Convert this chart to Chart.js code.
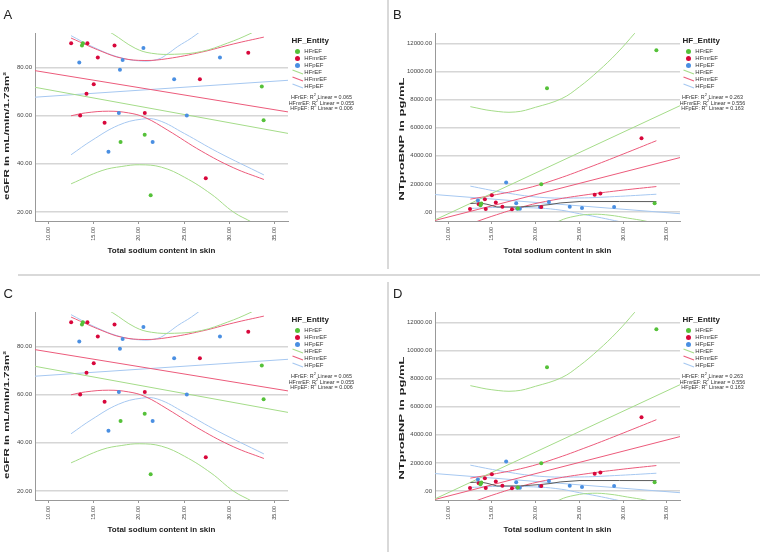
<!DOCTYPE html>
<html>
<head>
<meta charset="utf-8">
<script src="https://cdn.jsdelivr.net/npm/chart.js@4.4.0/dist/chart.umd.min.js"></script>
<style>
  body { margin: 0; background: #fff; width: 760px; height: 552px; position: relative; overflow: hidden;
         font-family: "Liberation Sans", Arial, sans-serif; color: #222; }
  canvas { position: absolute; }
  .t { position: absolute; white-space: nowrap; line-height: 1; }
  .sep { position: absolute; background: #d9d9d9; }
</style>
</head>
<body>
<div class="sep" style="left:18px;top:274px;width:742px;height:2px"></div>
<div class="sep" style="left:387px;top:0;width:2px;height:269px"></div>
<div class="sep" style="left:387px;top:282px;width:2px;height:270px"></div>
<script>
// groups and colours
const groups = ['HFrEF', 'HFmrEF', 'HFpEF'];
const dotColors = ['#55c139', '#d8073b', '#4a8fe2'];
const lineColors = ['#a5dc89', '#ec5b7b', '#a6c8f1'];

// axis ticks
const sodiumTicks = [10, 15, 20, 25, 30, 35];
const egfrTicks = [20, 40, 60, 80];
const bnpTicks = [0, 2000, 4000, 6000, 8000, 10000, 12000];

// R2 values shown under the legend
const r2Egfr = ['0.065', '0.055', '0.006'];
const r2Bnp = ['0.263', '0.556', '0.163'];

// patients
const sodiumHFrEF = [13.7, 13.8, 17.97, 20.64, 21.3, 33.6, 33.8];
const egfrHFrEF   = [89, 90, 49, 52, 27, 72, 58];
const bnpHFrEF    = [480, 600, 250, 1980, 8800, 620, 11500];

const sodiumHFmrEF = [12.5, 13.5, 14.2, 14.3, 15.0, 15.45, 16.2, 17.3, 20.65, 26.75, 27.4, 32.1];
const egfrHFmrEF   = [90, 60, 69, 90, 73, 84, 57, 89, 61, 75, 34, 86];
const bnpHFmrEF    = [220, 550, 900, 220, 1200, 670, 380, 190, 360, 1220, 1310, 5250];

const sodiumHFpEF = [13.4, 16.63, 17.78, 17.9, 18.2, 20.5, 21.52, 23.9, 25.3, 28.97];
const egfrHFpEF   = [82, 45, 61, 79, 83, 88, 49, 75, 60, 84];
const bnpHFpEF    = [810, 2100, 620, 240, 240, 360, 720, 380, 290, 360];

// linear fit lines, value at left and right end of the axis
const fitX = [8.5, 36.5];
const fitEgfr = [[71.7, 52.6], [78.6, 61.5], [67.6, 74.6]];
const fitBnp = [[-560, 7560], [-600, 3870], [1240, -120]];

// confidence curves (upper / lower)
const egfrBandHFrEFHi = [[12.49,106],[14.5,99.5],[17.09,93.9],[19.58,87.9],[21.4,85.8],[23.96,85.4],[26.9,86.5],[29.8,90],[32.3,93.9],[33.8,97]];
const egfrBandHFrEFLo = [[12.49,31.7],[15.92,37.2],[18.11,38.9],[20.1,39.6],[22.5,38.6],[25.06,34.4],[27.98,27.5],[30.5,19.9],[32.55,15.7],[33.8,12.5]];
const egfrBandHFmrEFHi = [[12.49,92.1],[15.92,86.5],[18.11,83.75],[20.67,82.8],[23.2,83.6],[26.9,86.25],[30.5,89.7],[33.83,92.5]];
const egfrBandHFmrEFLo = [[12.49,59.9],[14.1,61.1],[16.65,61.8],[18.84,61.1],[20.67,59.2],[23.2,53.9],[26.9,45.3],[30.5,38.3],[33.83,33.5]];
const egfrBandHFpEFHi = [[12.49,93.1],[14.8,88.6],[17.75,84.2],[20.3,82.6],[22.1,83.3],[23.2,85.6],[24.3,88.6],[25.8,92.1],[28.7,100],[33.83,112]];
const egfrBandHFpEFLo = [[12.49,43.75],[14.8,49.7],[17.75,56],[20.3,58.5],[22.1,58.1],[25.06,52.5],[28.7,44.9],[33.83,35.4]];

const bnpBandHFrEFHi = [[12.54,7492],[15,7200],[17.67,7112],[20,7450],[22.98,8065],[25,8900],[27.15,10018],[29.3,11300],[31.33,12716],[33.8,14500]];
const bnpBandHFrEFLo = [[12.54,-6000],[17.67,-2700],[20,-1600],[22.7,-640],[24.5,-300],[26.5,-160],[28.5,-230],[30.5,-430],[32.5,-640],[33.8,-850]];
const bnpBandHFmrEFHi = [[12.54,915],[15,1180],[18.8,1660],[22,2250],[26,3150],[30,4120],[33.8,5070]];
const bnpBandHFmrEFLo = [[12.54,-846],[15,-304],[18.8,416],[22,853],[26,1243],[30,1556],[33.8,1810]];
const bnpBandHFpEFHi = [[12.54,1837],[16,1428],[20.42,1049],[25,999],[29,1096],[33.8,1264]];
const bnpBandHFpEFLo = [[12.54,255],[16,328],[20.42,275],[23,120],[25,-121],[27,-350],[29,-608],[33.8,-1243]];

// dark grey smoother in the NTproBNP chart
const bnpSmooth = [[12.54,601],[13.6,644],[14.44,551],[15.58,358],[18.23,358],[20.51,458],[21.65,530],[22.8,644],[25.07,744],[29.6,744],[33.8,740]];

Chart.defaults.font.family = '"Liberation Sans", Arial, sans-serif';

function pts(xs, ys) { return xs.map((x, i) => ({ x: x, y: ys[i] })); }
function pairs(p) { return p.map(q => ({ x: q[0], y: q[1] })); }

function addText(html, x, y, css) {
  const d = document.createElement('div');
  d.className = 't';
  d.innerHTML = html;
  d.style.left = x + 'px';
  d.style.top = y + 'px';
  Object.assign(d.style, css || {});
  document.body.appendChild(d);
  return d;
}

function legend(lx, top, r2) {
  addText('HF_Entity', lx, top + 41, { fontSize: '8px', fontWeight: 'bold', transform: 'translateY(-50%)' });
  groups.forEach((g, i) => {
    const dot = document.createElement('div');
    dot.style.cssText = 'position:absolute;width:5px;height:5px;border-radius:50%;background:' + dotColors[i] +
      ';left:' + (lx + 3.5) + 'px;top:' + (top + 48.5 + i * 7) + 'px';
    document.body.appendChild(dot);
    addText(g, lx + 12.8, top + 51 + i * 7, { fontSize: '6px', transform: 'translateY(-50%)', color: '#333' });
    const ln = document.createElement('div');
    ln.innerHTML = '<svg width="12" height="6"><line x1="0.5" y1="1" x2="11" y2="5" stroke="' + lineColors[i] + '" stroke-width="1.1"/></svg>';
    ln.style.cssText = 'position:absolute;line-height:0;left:' + lx + 'px;top:' + (top + 69 + i * 7) + 'px';
    document.body.appendChild(ln);
    addText(g, lx + 12.8, top + 72 + i * 7, { fontSize: '6px', transform: 'translateY(-50%)', color: '#333' });
    addText(g + ': R<sup style="font-size:4px">2</sup> Linear = ' + r2[i], lx + 30, top + 96.7 + i * 5.8,
      { fontSize: '5.4px', transform: 'translate(-50%,-50%)', color: '#333' });
  });
}

function makePanel(o) {
  const cv = document.createElement('canvas');
  cv.width = o.w; cv.height = 275;
  cv.style.left = o.x + 'px'; cv.style.top = o.top + 'px';
  document.body.appendChild(cv);

  const line = { showLine: true, pointRadius: 0, borderWidth: 1, tension: 0.4, fill: false, order: 2 };
  const datasets = [];
  groups.forEach((g, i) => {
    datasets.push({ data: pts(o.xs[i], o.ys[i]), pointRadius: 2, pointBorderWidth: 0,
                    backgroundColor: dotColors[i], order: 0 });
    datasets.push({ ...line, borderColor: lineColors[i], data: pairs(o.bands[i][0]) });
    datasets.push({ ...line, borderColor: lineColors[i], data: pairs(o.bands[i][1]) });
    datasets.push({ ...line, borderColor: lineColors[i], tension: 0,
                    data: [{ x: fitX[0], y: o.fits[i][0] }, { x: fitX[1], y: o.fits[i][1] }] });
  });
  if (o.smooth) datasets.push({ ...line, borderColor: '#5a5a5a', borderWidth: 1, tension: 0, data: pairs(o.smooth), order: 1 });

  new Chart(cv, {
    type: 'scatter',
    data: { datasets: datasets },
    options: {
      responsive: false, animation: false, devicePixelRatio: 1,
      layout: { padding: { left: 0, top: 33, right: o.padRight, bottom: 18.2 } },
      plugins: { legend: { display: false }, tooltip: { enabled: false } },
      scales: {
        x: {
          type: 'linear', min: 8.5, max: 36.5,
          afterBuildTicks: s => { s.ticks = sodiumTicks.map(v => ({ value: v })); },
          afterFit: s => { s.height = 35.8; },
          ticks: { font: { size: 5.5 }, color: '#444', minRotation: 90, maxRotation: 90, autoSkip: false, padding: 3,
                   callback: v => v.toFixed(2) },
          grid: { drawOnChartArea: false, drawTicks: true, tickLength: 3, color: '#999' },
          border: { color: '#999', width: 1 },
          title: { display: true, text: 'Total sodium content in skin', color: '#222',
                   font: { size: 8, weight: 'bold' }, padding: { top: 1, bottom: 1 } }
        },
        y: {
          type: 'linear', min: o.yMin, max: o.yMax,
          afterBuildTicks: s => { s.ticks = o.yTicks.map(v => ({ value: v })); },
          afterFit: s => { s.width = o.yWidth; },
          ticks: { font: { size: 6 }, color: '#444', padding: 3, autoSkip: false,
                   callback: v => (v === 0 ? '.00' : v.toFixed(2)) },
          grid: { color: '#d6d6d6', lineWidth: 1.5, drawTicks: false },
          border: { color: '#999', width: 1 }
        }
      }
    }
  });

  addText(o.yTitle, o.x + o.yTitleX, o.top + o.yTitleY,
    { fontSize: '8px', fontWeight: 'bold', transform: 'translate(-50%,-50%) rotate(-90deg) scaleX(' + o.stretch + ')' });
  addText(o.letter, o.letterX, o.top + 13.5, { fontSize: '13px', transform: 'translateY(-50%)' });
  legend(o.legendX, o.top, o.r2);
}

const egfrPanel = {
  x: 0, w: 385, padRight: 97, yWidth: 35, yMin: 16.3, yMax: 94.2, yTicks: egfrTicks,
  xs: [sodiumHFrEF, sodiumHFmrEF, sodiumHFpEF], ys: [egfrHFrEF, egfrHFmrEF, egfrHFpEF],
  fits: fitEgfr,
  bands: [[egfrBandHFrEFHi, egfrBandHFrEFLo], [egfrBandHFmrEFHi, egfrBandHFmrEFLo], [egfrBandHFpEFHi, egfrBandHFpEFLo]],
  yTitle: 'eGFR in mL/min/1.73m²', yTitleX: 7, yTitleY: 136, stretch: 1.44,
  letterX: 3.5, legendX: 291.5, r2: r2Egfr
};
const bnpPanel = {
  x: 388, w: 372, padRight: 80, yWidth: 47, yMin: -640, yMax: 12730, yTicks: bnpTicks,
  xs: [sodiumHFrEF, sodiumHFmrEF, sodiumHFpEF], ys: [bnpHFrEF, bnpHFmrEF, bnpHFpEF],
  fits: fitBnp,
  bands: [[bnpBandHFrEFHi, bnpBandHFrEFLo], [bnpBandHFmrEFHi, bnpBandHFmrEFLo], [bnpBandHFpEFHi, bnpBandHFpEFLo]],
  smooth: bnpSmooth,
  yTitle: 'NTproBNP in pg/mL', yTitleX: 13.7, yTitleY: 139, stretch: 1.62,
  letterX: 393, legendX: 682.5, r2: r2Bnp
};

makePanel({ ...egfrPanel, top: 0, letter: 'A' });
makePanel({ ...bnpPanel, top: 0, letter: 'B' });
makePanel({ ...egfrPanel, top: 279, letter: 'C' });
makePanel({ ...bnpPanel, top: 279, letter: 'D' });
</script>
</body>
</html>
